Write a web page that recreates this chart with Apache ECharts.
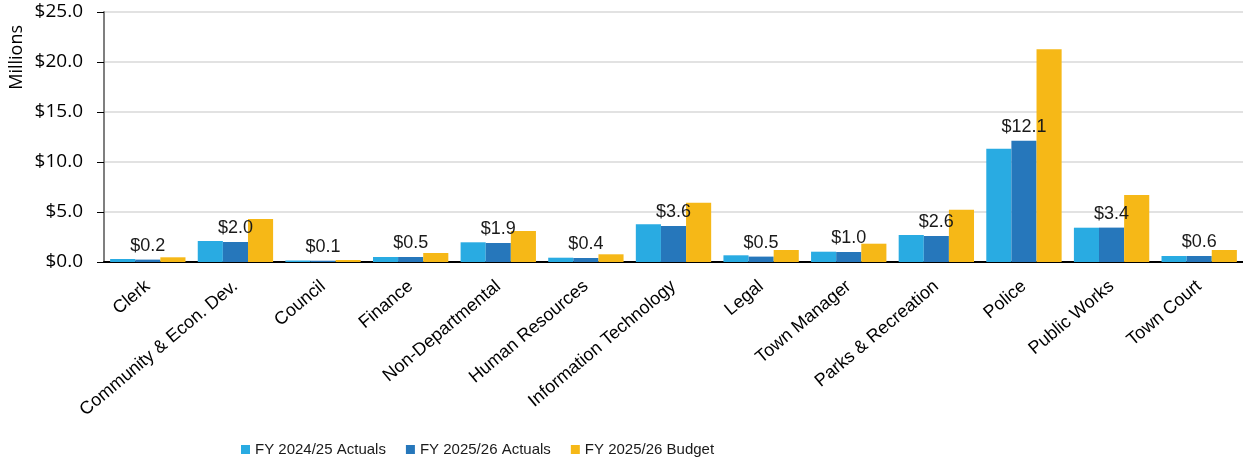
<!DOCTYPE html>
<html>
<head>
<meta charset="utf-8">
<script src="https://cdn.jsdelivr.net/npm/echarts@6/dist/echarts.min.js"></script>
<style>
  html, body { margin: 0; padding: 0; background: #fff; }
  #chart { width: 1243px; height: 462px; }
</style>
</head>
<body>
<div id="chart"></div>
<script>
// departments (x axis)
const categories = [
  'Clerk', 'Community & Econ. Dev.', 'Council', 'Finance', 'Non-Departmental',
  'Human Resources', 'Information Technology', 'Legal', 'Town Manager',
  'Parks & Recreation', 'Police', 'Public Works', 'Town Court'
]
// values in $ millions
const actuals2425 = [0.3, 2.1, 0.15, 0.5, 1.97, 0.43, 3.77, 0.67, 1.03, 2.7, 11.33, 3.43, 0.6]
const actuals2526 = [0.24, 2.0, 0.13, 0.5, 1.9, 0.4, 3.6, 0.54, 1.0, 2.6, 12.13, 3.44, 0.6]
const budget2526 = [0.47, 4.3, 0.2, 0.9, 3.1, 0.77, 5.93, 1.2, 1.83, 5.23, 21.27, 6.7, 1.2]
const yTicks = { min: 0, max: 25, interval: 5 }

const chart = echarts.init(document.getElementById('chart'))

const option = {
  animation: false,
  color: ['#29abe2', '#2677bb', '#f6b817'],
  grid: {
    left: 104,
    right: 0,
    top: 12,
    bottom: 200,
  },
  legend: {
    left: 236,
    top: 437,
    itemWidth: 9,
    itemHeight: 9,
    itemGap: 20,
    icon: 'rect',
    textStyle: {
      fontFamily: 'Liberation Sans Narrow, Liberation Sans, Arial',
      fontSize: 15,
      color: '#1a1a1a',
    },
    data: ['FY 2024/25 Actuals', 'FY 2025/26 Actuals', 'FY 2025/26 Budget'],
  },
  xAxis: {
    type: 'category',
    data: categories,
    axisLine: {
      lineStyle: { color: '#000', width: 2 },
    },
    axisTick: {
      alignWithLabel: true,
      length: 6,
      lineStyle: { color: '#000', width: 1.5 },
    },
    axisLabel: {
      interval: 0,
      rotate: 40,
      margin: 22,
      fontFamily: 'Liberation Sans, Arial',
      fontSize: 18,
      color: '#000',
    },
  },
  yAxis: {
    type: 'value',
    min: yTicks.min,
    max: yTicks.max,
    interval: yTicks.interval,
    name: 'Millions',
    nameLocation: 'end',
    nameRotate: 90,
    nameGap: 0,
    nameTextStyle: {
      fontFamily: 'Open Sans, Noto Sans',
      fontSize: 18,
      color: '#000',
      align: 'right',
      verticalAlign: 'bottom',
      padding: [0, 13, 78, 0],
    },
    axisLine: {
      show: true,
      lineStyle: { color: '#7f7f7f', width: 2 },
    },
    axisTick: {
      show: true,
      length: 7,
      lineStyle: { color: '#000', width: 1 },
    },
    axisLabel: {
      margin: 21,
      fontFamily: 'Open Sans, Noto Sans',
      fontSize: 19,
      color: '#000',
      formatter: (v) => '$' + v.toFixed(1),
    },
    splitLine: {
      lineStyle: { color: '#d9d9d9', width: 1.5 },
    },
  },
  series: [
    {
      name: 'FY 2024/25 Actuals',
      type: 'bar',
      barGap: '0%',
      barCategoryGap: '14%',
      data: actuals2425,
    },
    {
      name: 'FY 2025/26 Actuals',
      type: 'bar',
      barGap: '0%',
      barCategoryGap: '14%',
      data: actuals2526,
      label: {
        show: true,
        position: 'top',
        distance: 5,
        fontFamily: 'Liberation Sans, Arial',
        fontSize: 18,
        color: '#1a1a1a',
        formatter: (p) => '$' + p.value.toFixed(1),
      },
    },
    {
      name: 'FY 2025/26 Budget',
      type: 'bar',
      barGap: '0%',
      barCategoryGap: '14%',
      data: budget2526,
    },
  ],
}

chart.setOption(option)
</script>
</body>
</html>
